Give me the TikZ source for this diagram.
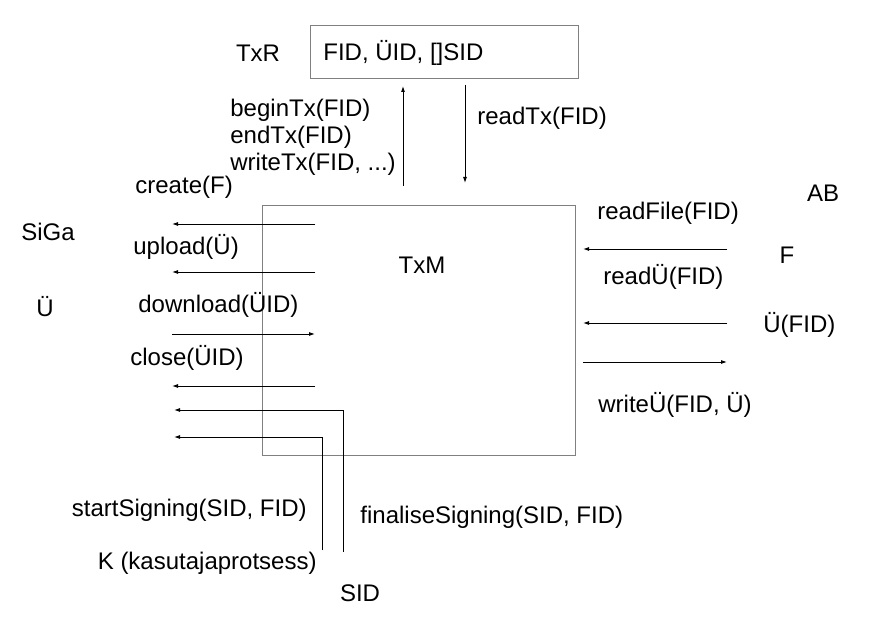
\documentclass[tikz,border=0pt]{standalone}
\usepackage{fontspec}
\setmainfont{Liberation Sans}
\usetikzlibrary{arrows.meta}
\tikzset{
	lbl/.style = {inner sep=0pt, font=\fontsize{12}{13.5}\selectfont},
	boxline/.style = {draw=black!50, line width=0.5pt},
	call/.style = {-{Latex[length=3pt,width=2pt]}, line width=0.45pt}
}
\begin{document}
\begin{tikzpicture}[x=0.5pt, y=-0.5pt]
\useasboundingbox (0,0) rectangle (877,619);
% boxes
\draw[boxline] (310,26) rectangle (578,79);
\draw[boxline] (262,206) rectangle (575,456);
\node[lbl, anchor=west] (txrdata) at (323,53) {FID, ÜID, []SID};
\node[lbl] (txr) at (258,53) {TxR};
\node[lbl] (txm) at (422,265) {TxM};
% TxR calls
\node[lbl, anchor=north west, align=left] (txcalls) at (230,99) {beginTx(FID)\\endTx(FID)\\writeTx(FID, ...)};
\node[lbl, anchor=west] (readtx) at (477,118) {readTx(FID)};
\coordinate (up0) at (403,186);
\coordinate (up1) at (403,86);
\coordinate (dn0) at (465,85);
\coordinate (dn1) at (465,183);
\draw[call] (up0) -- (up1);
\draw[call] (dn0) -- (dn1);
% SiGa side
\node[lbl] (siga) at (48,232) {SiGa};
\node[lbl] (ue) at (45,307) {Ü};
\node[lbl, anchor=west] (create) at (135,187) {create(F)};
\node[lbl, anchor=west] (upload) at (133,247) {upload(Ü)};
\node[lbl, anchor=west] (download) at (138,305) {download(ÜID)};
\node[lbl, anchor=west] (close) at (130,358) {close(ÜID)};
\foreach \n / \y in {create/224, upload/272, close/386} {
	\coordinate (\n0) at (315,\y);
	\coordinate (\n1) at (172,\y);
	\draw[call] (\n0) -- (\n1);
}
\coordinate (download0) at (172,334);
\coordinate (download1) at (315,334);
\draw[call] (download0) -- (download1);
% signing
\coordinate (fin0) at (343,552);
\coordinate (fin1) at (174,410);
\coordinate (start0) at (322,550);
\coordinate (start1) at (174,437);
\draw[call] (fin0) |- (fin1);
\draw[call] (start0) |- (start1);
\node[lbl, anchor=east] (start) at (307,510) {startSigning(SID, FID)};
\node[lbl, anchor=west] (finalise) at (360,517) {finaliseSigning(SID, FID)};
\node[lbl, anchor=east] (k) at (317,563) {K (kasutajaprotsess)};
\node[lbl] (sid) at (360,593) {SID};
% AB side
\node[lbl] (ab) at (823,193) {AB};
\node[lbl] (f) at (787,255) {F};
\node[lbl, anchor=west] (ufid) at (763,325) {Ü(FID)};
\node[lbl, anchor=west] (readfile) at (597,213) {readFile(FID)};
\node[lbl, anchor=west] (readue) at (603,277) {readÜ(FID)};
\node[lbl, anchor=west] (writeue) at (598,405) {writeÜ(FID, Ü)};
\foreach \n / \y in {readfile/249, readue/323} {
	\coordinate (\n0) at (727,\y);
	\coordinate (\n1) at (583,\y);
	\draw[call] (\n0) -- (\n1);
}
\coordinate (writeue0) at (583,362);
\coordinate (writeue1) at (727,362);
\draw[call] (writeue0) -- (writeue1);
\end{tikzpicture}
\end{document}
